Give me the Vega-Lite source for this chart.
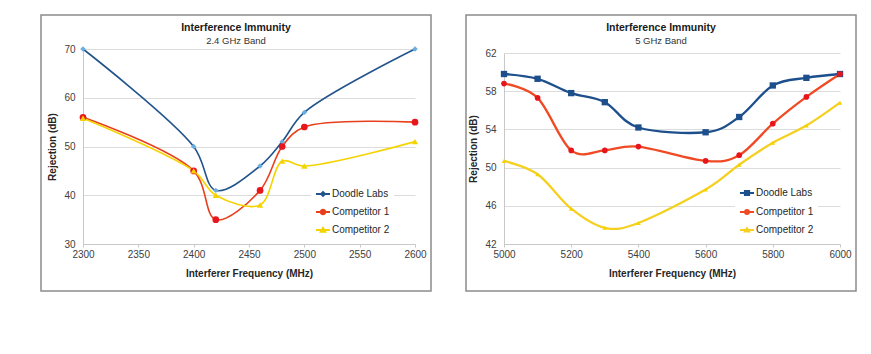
{
  "$schema": "https://vega.github.io/schema/vega-lite/v6.json",
  "padding": {"left": 40, "top": 14, "right": 0, "bottom": 0},
  "background": "white",
  "spacing": 33,
  "config": {
    "font": "Liberation Sans",
    "view": {"stroke": "#8c8c8c", "strokeWidth": 1.5},
    "axis": {
      "labelFont": "Liberation Sans", "labelFontSize": 10, "labelColor": "#404040",
      "titleFont": "Liberation Sans", "titleFontSize": 10, "titleFontWeight": "bold", "titleColor": "#262626",
      "domainColor": "#c8c8c8", "tickColor": "#c8c8c8", "gridColor": "#dcdcdc", "labelFlush": false, "labelOverlap": false
    },
    "title": {"font": "Liberation Sans", "fontSize": 10.5, "fontWeight": "bold", "color": "#1a1a1a", "subtitleFont": "Liberation Sans", "subtitleFontSize": 9.5, "subtitleColor": "#333333", "subtitlePadding": 2, "anchor": "middle", "offset": -30},
    "legend": {"orient": "none", "padding": 4, "fillColor": "white", "symbolSize": 196, "symbolStrokeWidth": 1.8, "labelFont": "Liberation Sans", "labelFontSize": 10, "labelColor": "#262626", "labelOffset": 1, "rowPadding": 4, "title": null}
  },
  "resolve": {
    "scale": {"x": "independent", "y": "independent", "stroke": "independent"},
    "legend": {"stroke": "independent"}
  },
  "datasets": {
    "band24": [
      {"series": "Doodle Labs", "freq": 2300, "rej": 70},
      {"series": "Doodle Labs", "freq": 2400, "rej": 50},
      {"series": "Doodle Labs", "freq": 2420, "rej": 41},
      {"series": "Doodle Labs", "freq": 2460, "rej": 46},
      {"series": "Doodle Labs", "freq": 2480, "rej": 51},
      {"series": "Doodle Labs", "freq": 2500, "rej": 57},
      {"series": "Doodle Labs", "freq": 2600, "rej": 70},
      {"series": "Competitor 1", "freq": 2300, "rej": 56},
      {"series": "Competitor 1", "freq": 2400, "rej": 45},
      {"series": "Competitor 1", "freq": 2420, "rej": 35},
      {"series": "Competitor 1", "freq": 2460, "rej": 41},
      {"series": "Competitor 1", "freq": 2480, "rej": 50},
      {"series": "Competitor 1", "freq": 2500, "rej": 54},
      {"series": "Competitor 1", "freq": 2600, "rej": 55},
      {"series": "Competitor 2", "freq": 2300, "rej": 55.8},
      {"series": "Competitor 2", "freq": 2400, "rej": 45},
      {"series": "Competitor 2", "freq": 2420, "rej": 40},
      {"series": "Competitor 2", "freq": 2460, "rej": 38},
      {"series": "Competitor 2", "freq": 2480, "rej": 47},
      {"series": "Competitor 2", "freq": 2500, "rej": 46},
      {"series": "Competitor 2", "freq": 2600, "rej": 51}
    ],
    "band5": [
      {"series": "Doodle Labs", "freq": 5000, "rej": 59.8},
      {"series": "Doodle Labs", "freq": 5100, "rej": 59.3},
      {"series": "Doodle Labs", "freq": 5200, "rej": 57.8},
      {"series": "Doodle Labs", "freq": 5300, "rej": 56.85},
      {"series": "Doodle Labs", "freq": 5400, "rej": 54.2},
      {"series": "Doodle Labs", "freq": 5600, "rej": 53.7},
      {"series": "Doodle Labs", "freq": 5700, "rej": 55.3},
      {"series": "Doodle Labs", "freq": 5800, "rej": 58.6},
      {"series": "Doodle Labs", "freq": 5900, "rej": 59.4},
      {"series": "Doodle Labs", "freq": 6000, "rej": 59.8},
      {"series": "Competitor 1", "freq": 5000, "rej": 58.8},
      {"series": "Competitor 1", "freq": 5100, "rej": 57.3},
      {"series": "Competitor 1", "freq": 5200, "rej": 51.8},
      {"series": "Competitor 1", "freq": 5300, "rej": 51.8},
      {"series": "Competitor 1", "freq": 5400, "rej": 52.2},
      {"series": "Competitor 1", "freq": 5600, "rej": 50.7},
      {"series": "Competitor 1", "freq": 5700, "rej": 51.3},
      {"series": "Competitor 1", "freq": 5800, "rej": 54.6},
      {"series": "Competitor 1", "freq": 5900, "rej": 57.4},
      {"series": "Competitor 1", "freq": 6000, "rej": 59.8},
      {"series": "Competitor 2", "freq": 5000, "rej": 50.7},
      {"series": "Competitor 2", "freq": 5100, "rej": 49.3},
      {"series": "Competitor 2", "freq": 5200, "rej": 45.7},
      {"series": "Competitor 2", "freq": 5300, "rej": 43.7},
      {"series": "Competitor 2", "freq": 5400, "rej": 44.2},
      {"series": "Competitor 2", "freq": 5600, "rej": 47.7},
      {"series": "Competitor 2", "freq": 5700, "rej": 50.3},
      {"series": "Competitor 2", "freq": 5800, "rej": 52.6},
      {"series": "Competitor 2", "freq": 5900, "rej": 54.4},
      {"series": "Competitor 2", "freq": 6000, "rej": 56.8}
    ]
  },
  "hconcat": [
    {
      "width": 390,
      "height": 276,
      "title": {"text": "Interference Immunity", "subtitle": "2.4 GHz Band"},
      "data": {"name": "band24"},
      "encoding": {
        "x": {"field": "freq", "type": "quantitative",
          "scale": {"domain": [2300, 2600], "range": [42, 374], "nice": false, "zero": false},
          "axis": {"values": [2300, 2350, 2400, 2450, 2500, 2550, 2600], "format": "d", "title": "Interferer Frequency (MHz)", "offset": -47, "grid": false, "tickSize": 3, "labelPadding": 2, "titlePadding": 9}},
        "y": {"field": "rej", "type": "quantitative",
          "scale": {"domain": [30, 70], "range": [229, 34], "nice": false, "zero": false},
          "axis": {"values": [30, 40, 50, 60, 70], "title": "Rejection (dB)", "offset": -42, "grid": true, "ticks": false, "labelPadding": 8, "titlePadding": 6}}
      },
      "layer": [
        {
          "mark": {"type": "line", "interpolate": "catmull-rom", "strokeWidth": 1.6},
          "encoding": {
            "stroke": {"field": "series", "type": "nominal",
              "scale": {"domain": ["Doodle Labs", "Competitor 1", "Competitor 2"], "range": ["#22548c", "#e8401c", "#f5d300"]},
              "legend": {"legendX": 270, "legendY": 167,
                "encode": {"symbols": {"update": {
                  "shape": {"signal": "datum.value === 'Doodle Labs' ? 'M-1,0H1M0,-0.3L0.3,0L0,0.3L-0.3,0Z' : datum.value === 'Competitor 1' ? 'M-1,0H1M-0.34,0A0.34,0.34,0,1,0,0.34,0A0.34,0.34,0,1,0,-0.34,0Z' : 'M-1,0H1M0,-0.32L0.34,0.26L-0.34,0.26Z'"},
                  "fill": {"signal": "datum.value === 'Doodle Labs' ? '#6aaee0' : datum.value === 'Competitor 1' ? '#e8161c' : '#f5d300'"},
                  "stroke": {"signal": "datum.value === 'Doodle Labs' ? '#22548c' : datum.value === 'Competitor 1' ? '#e8401c' : '#f5d300'"},
                  "strokeWidth": {"value": 1.8},
                  "strokeOpacity": {"value": 1},
                  "fillOpacity": {"value": 1},
                  "opacity": {"value": 1}
                }}}}}
          }
        },
        {
          "transform": [{"filter": "datum.series === 'Doodle Labs'"}],
          "mark": {"type": "point", "shape": "diamond", "filled": true, "color": "#6aaee0", "opacity": 1, "size": 30}
        },
        {
          "transform": [{"filter": "datum.series === 'Competitor 1'"}],
          "mark": {"type": "point", "shape": "circle", "filled": true, "color": "#e8161c", "opacity": 1, "size": 45}
        },
        {
          "transform": [{"filter": "datum.series === 'Competitor 2'"}],
          "mark": {"type": "point", "shape": "triangle-up", "filled": true, "color": "#f5d300", "opacity": 1, "size": 40}
        }
      ]
    },
    {
      "width": 390,
      "height": 276,
      "title": {"text": "Interference Immunity", "subtitle": "5 GHz Band"},
      "data": {"name": "band5"},
      "encoding": {
        "x": {"field": "freq", "type": "quantitative",
          "scale": {"domain": [5000, 6000], "range": [38, 374], "nice": false, "zero": false},
          "axis": {"values": [5000, 5200, 5400, 5600, 5800, 6000], "format": "d", "title": "Interferer Frequency (MHz)", "offset": -47, "grid": false, "tickSize": 3, "labelPadding": 2, "titlePadding": 9}},
        "y": {"field": "rej", "type": "quantitative",
          "scale": {"domain": [42, 62], "range": [229, 38], "nice": false, "zero": false},
          "axis": {"values": [42, 46, 50, 54, 58, 62], "title": "Rejection (dB)", "offset": -38, "grid": true, "ticks": false, "labelPadding": 8, "titlePadding": 6}}
      },
      "layer": [
        {
          "mark": {"type": "line", "interpolate": "cardinal", "strokeWidth": 2.3},
          "encoding": {
            "stroke": {"field": "series", "type": "nominal",
              "scale": {"domain": ["Doodle Labs", "Competitor 1", "Competitor 2"], "range": ["#1c4f8c", "#f04a24", "#f5d020"]},
              "legend": {"legendX": 269, "legendY": 166,
                "encode": {"symbols": {"update": {
                  "shape": {"signal": "datum.value === 'Doodle Labs' ? 'M-1,0H1M-0.3,-0.3H0.3V0.3H-0.3Z' : datum.value === 'Competitor 1' ? 'M-1,0H1M-0.28,0A0.28,0.28,0,1,0,0.28,0A0.28,0.28,0,1,0,-0.28,0Z' : 'M-1,0H1M0,-0.26L0.3,0.22L-0.3,0.22Z'"},
                  "fill": {"signal": "datum.value === 'Doodle Labs' ? '#1c4f8c' : datum.value === 'Competitor 1' ? '#e8161c' : '#f5d300'"},
                  "stroke": {"signal": "datum.value === 'Doodle Labs' ? '#1c4f8c' : datum.value === 'Competitor 1' ? '#f04a24' : '#f5d020'"},
                  "strokeWidth": {"value": 2},
                  "strokeOpacity": {"value": 1},
                  "fillOpacity": {"value": 1},
                  "opacity": {"value": 1}
                }}}}}
          }
        },
        {
          "transform": [{"filter": "datum.series === 'Doodle Labs'"}],
          "mark": {"type": "point", "shape": "square", "filled": true, "color": "#1c4f8c", "opacity": 1, "size": 40}
        },
        {
          "transform": [{"filter": "datum.series === 'Competitor 1'"}],
          "mark": {"type": "point", "shape": "circle", "filled": true, "color": "#e8161c", "opacity": 1, "size": 32}
        },
        {
          "transform": [{"filter": "datum.series === 'Competitor 2'"}],
          "mark": {"type": "point", "shape": "triangle-up", "filled": true, "color": "#f5d300", "opacity": 1, "size": 22}
        }
      ]
    }
  ]
}
